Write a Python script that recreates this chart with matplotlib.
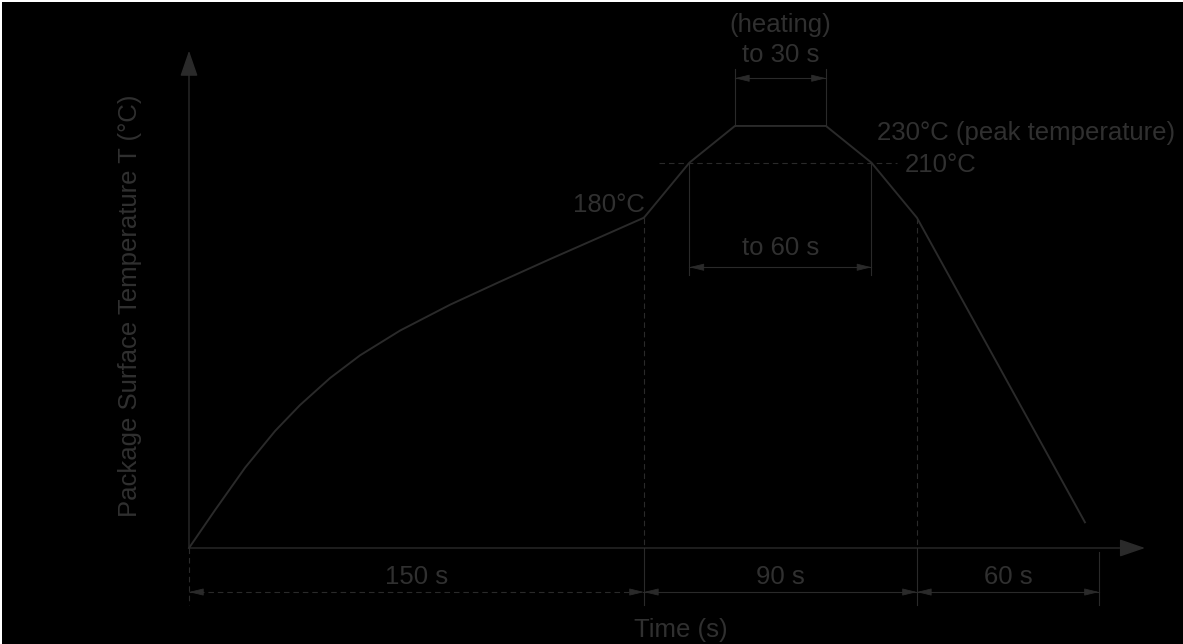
import matplotlib
matplotlib.use('Agg')
import matplotlib.pyplot as plt
from matplotlib.patches import Rectangle

# reflow profile (time in s, temperature in degC)
preheat_t = [0, 8.6, 18.5, 28.4, 36.6, 46.5, 56.4, 69.6, 86.1, 102.5, 119.0, 135.5, 150]
preheat_T = [0, 20.7, 43.8, 63.8, 77.9, 92.6, 105.0, 118.5, 132.6, 145.1, 157.4, 169.4, 180]
reflow_t = [150, 165, 180, 210, 225, 240, 295.4]
reflow_T = [180, 210, 230, 230, 210, 180, 14]

zone_edges = [0, 150, 240, 300]
zone_labels = ['150 s', '90 s', '60 s']
peak_window = [180, 210]       # "to 30 s"
above_210_window = [165, 225]  # "to 60 s"

LINE = '#2a2a2a'
TEXT = '#303030'
FS = 18.5

plt.rcParams['font.family'] = ['Liberation Sans', 'DejaVu Sans']

W, H = 1183, 644
fig = plt.figure(figsize=(W / 100, H / 100), dpi=100, facecolor='black')
# thin white strip along the top and left edge
fig.patches.append(Rectangle((0, 0), 2 / W, 1, transform=fig.transFigure,
                             facecolor='white', edgecolor='none', zorder=0))
fig.patches.append(Rectangle((0, 1 - 2 / H), 1, 2 / H, transform=fig.transFigure,
                             facecolor='white', edgecolor='none', zorder=0))

# pixel mapping of the drawing: t=0 at x=189 px, T=0 at y=548 px
px_per_s, px_per_deg = 3.033, 1.835
ax = fig.add_axes([0, 0, 1, 1])
ax.set_facecolor('none')
ax.set_xlim(-189 / px_per_s, (W - 189) / px_per_s)
ax.set_ylim((548 - H) / px_per_deg, 548 / px_per_deg)
ax.set_xticks([])
ax.set_yticks([])
for s in ax.spines.values():
    s.set_visible(False)

dash = (0, (5, 3.5))


def head(x, y, dx, dy, size=9):
    ax.annotate('', xy=(x, y), xytext=(dx * size, dy * size),
                textcoords='offset points', xycoords='data',
                arrowprops=dict(arrowstyle='-|>,head_length=0.9,head_width=0.22',
                                color=LINE, lw=0.6, shrinkA=0, shrinkB=0,
                                mutation_scale=10))


# main axes with arrows
ax.annotate('', xy=(0, 271), xytext=(0, 0),
            arrowprops=dict(arrowstyle='-|>,head_length=1.6,head_width=0.55',
                            color=LINE, lw=1.0, shrinkA=0, shrinkB=0,
                            mutation_scale=10))
ax.annotate('', xy=(315.2, 0), xytext=(0, 0),
            arrowprops=dict(arrowstyle='-|>,head_length=1.6,head_width=0.55',
                            color=LINE, lw=1.0, shrinkA=0, shrinkB=0,
                            mutation_scale=10))

# profile curve
ax.plot(preheat_t, preheat_T, color=LINE, lw=1.4, solid_joinstyle='round')
ax.plot(reflow_t, reflow_T, color=LINE, lw=1.4, solid_joinstyle='round')

# 210 degC level
ax.plot([155, 233.4], [210, 210], color=LINE, lw=0.8, linestyle=dash)

# zone boundary verticals
dim_y, tick_bot = -24, -31
ax.plot([0, 0], [0, tick_bot], color=LINE, lw=0.8, linestyle=dash)
for t in zone_edges[1:3]:
    ax.plot([t, t], [180, 0], color=LINE, lw=0.8, linestyle=dash)
    ax.plot([t, t], [0, tick_bot], color=LINE, lw=0.8)
ax.plot([300, 300], [-2, tick_bot], color=LINE, lw=0.8)

# bottom dimension lines
ax.plot(zone_edges[0:2], [dim_y, dim_y], color=LINE, lw=0.8, linestyle=dash)
ax.plot(zone_edges[1:4], [dim_y] * 3, color=LINE, lw=0.8)
for a, b, lab in zip(zone_edges[:-1], zone_edges[1:], zone_labels):
    head(a, dim_y, 1, 0)
    head(b, dim_y, -1, 0)
    ax.text((a + b) / 2, -16, lab, color=TEXT, fontsize=FS, ha='center', va='center')

# "to 60 s" dimension
y60 = 153
for t in above_210_window:
    ax.plot([t, t], [210, 149], color=LINE, lw=0.8)
ax.plot(above_210_window, [y60, y60], color=LINE, lw=0.8)
head(above_210_window[0], y60, 1, 0)
head(above_210_window[1], y60, -1, 0)
ax.text(sum(above_210_window) / 2, 163.5, 'to 60 s', color=TEXT, fontsize=FS,
        ha='center', va='center')

# "to 30 s" dimension
y30 = 256
for t in peak_window:
    ax.plot([t, t], [230, 261], color=LINE, lw=0.8)
ax.plot(peak_window, [y30, y30], color=LINE, lw=0.8)
head(peak_window[0], y30, 1, 0)
head(peak_window[1], y30, -1, 0)
ax.text(sum(peak_window) / 2, 268.7, 'to 30 s', color=TEXT, fontsize=FS,
        ha='center', va='center')
ax.text(sum(peak_window) / 2, 285, '(heating)', color=TEXT, fontsize=FS,
        ha='center', va='center')

# temperature labels
ax.text(150.3, 187, '180°C', color=TEXT, fontsize=FS, ha='right', va='center')
ax.text(226.8, 226, '230°C (peak temperature)', color=TEXT, fontsize=FS,
        ha='left', va='center')
ax.text(236, 208.7, '210°C', color=TEXT, fontsize=FS, ha='left', va='center')

# axis titles
ax.text(162, -44.7, 'Time (s)', color=TEXT, fontsize=FS, ha='center', va='center')
ax.text(-19.5, 132, 'Package Surface Temperature T (°C)', color=TEXT, fontsize=FS,
        ha='center', va='center', rotation=90)

fig.savefig('out.png', dpi=100, facecolor=fig.get_facecolor())
